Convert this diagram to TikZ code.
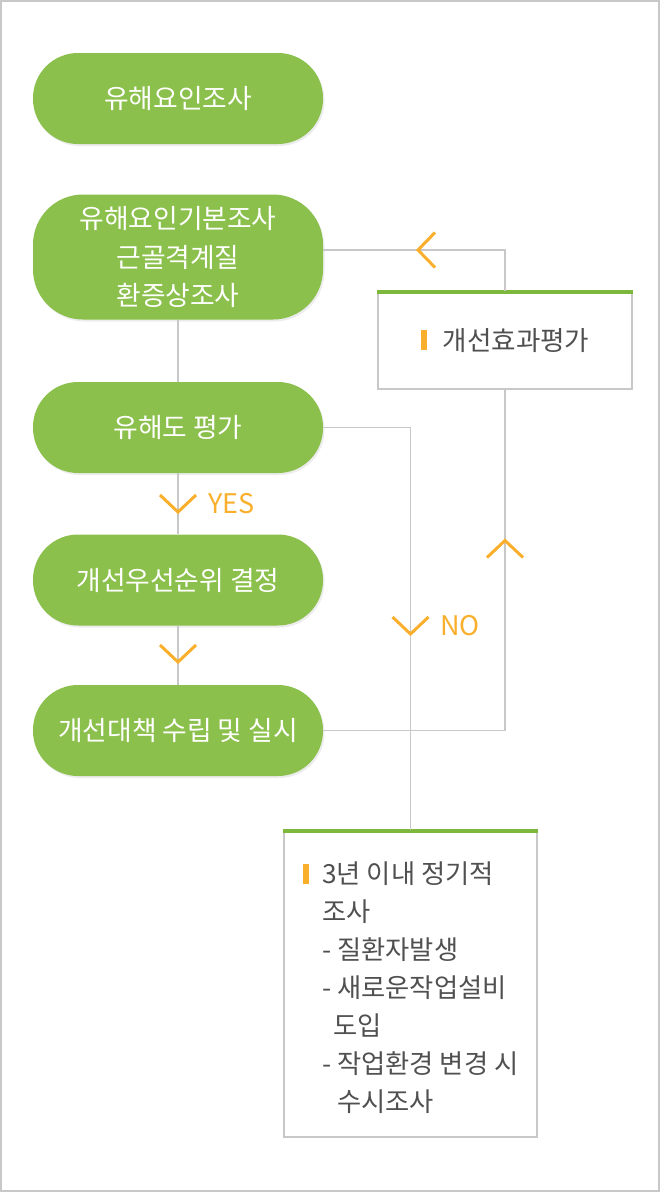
\documentclass[tikz,border=0pt]{standalone}
\usepackage{fontspec}
\setmainfont{Noto Sans CJK KR}
\usetikzlibrary{shadows,calc}
\definecolor{leaf}{HTML}{8BC04C}
\definecolor{leafdark}{HTML}{7DB83C}
\definecolor{amber}{HTML}{F9AF2B}
\definecolor{wire}{HTML}{C8C8C8}
\definecolor{ink}{HTML}{505050}
\tikzset{
  flowbox/.style={fill=leaf, text=white, rounded corners=45pt, minimum width=290pt,
    minimum height=91pt, inner sep=0pt, font=\fontsize{26.8}{38.5}\selectfont, align=center,
    drop shadow={shadow xshift=1.5pt, shadow yshift=-2pt, opacity=0.15}},
  wirel/.style={draw=wire, line width=1.8pt},
  chev/.style={draw=amber, line width=3pt},
  lbl/.style={text=amber, font=\fontsize{27}{27}\selectfont, anchor=west, inner sep=0pt},
  notebox/.style={draw=wire, line width=2pt, fill=white, inner sep=0pt},
  greentop/.style={draw=leafdark, line width=4pt},
  pics/chevdown/.style={code={\draw[chev] (-18,-8.5) -- (0,8.5) -- (18,-8.5);}},
  pics/chevup/.style={code={\draw[chev] (-18,8.5) -- (0,-8.5) -- (18,8.5);}},
  pics/chevleft/.style={code={\draw[chev] (8.5,-17.5) -- (-8.5,0) -- (8.5,17.5);}},
}
\begin{document}
\begin{tikzpicture}[x=1pt,y=-1pt]
\useasboundingbox (0,0) rectangle (660,1192);
\draw[draw=wire, line width=2pt] (1,1) rectangle (659,1191);

% main flow nodes
\node[flowbox] (n1) at (178,98.5) {유해요인조사};
\node[flowbox, rounded corners=50pt, minimum height=125pt] (n2) at (178,257) {유해요인기본조사\\근골격계질\\환증상조사};
\node[flowbox] (n3) at (178,427.5) {유해도 평가};
\node[flowbox] (n4) at (178,580) {개선우선순위 결정};
\node[flowbox] (n5) at (178,730.5) {개선대책 수립 및 실시};

% side boxes
\node[notebox, minimum width=254pt, minimum height=97pt, text=ink,
      font=\fontsize{26.6}{30}\selectfont] (ev) at (505,340.5)
      {\textcolor{amber}{\rule{6pt}{20pt}}\hspace{16pt}개선효과평가};
\draw[greentop] ([yshift=-1pt]ev.north west) -- ([yshift=-1pt]ev.north east);

\node[notebox, minimum width=253pt, minimum height=306pt] (nb) at (410.5,984) {};
\draw[greentop] ([yshift=-1pt]nb.north west) -- ([yshift=-1pt]nb.north east);
\node[anchor=north west, align=left, text=ink, inner sep=0pt,
      font=\fontsize{26.3}{38}\selectfont] (nt) at (322,862)
  {\llap{\textcolor{amber}{\rule{6pt}{20pt}}\hspace{13pt}}3년 이내 정기적\\
   조사\\
   - 질환자발생\\
   - 새로운작업설비\\
   \hspace*{11pt}도입\\
   - 작업환경 변경 시\\
   \hspace*{15pt}수시조사};

% connectors
\draw[wirel] (n2.south) -- (n3.north);
\draw[wirel] (n3.south) -- (n4.north);
\draw[wirel] (n4.south) -- (n5.north);
\draw[wirel] (n5.east) -| (ev.south);
\draw[wirel] (ev.north) |- ([yshift=7pt]n2.east);
\draw[wirel] (n3.east) -| (nb.north);

% chevrons
\pic at (178,503.5) {chevdown};
\pic at (178,653.5) {chevdown};
\pic at (410.5,625.5) {chevdown};
\pic at (505,549) {chevup};
\pic at (426.5,250) {chevleft};

% labels
\node[lbl] (yes) at (208,503.5) {YES};
\node[lbl] (no) at (440,626) {NO};
\end{tikzpicture}
\end{document}
